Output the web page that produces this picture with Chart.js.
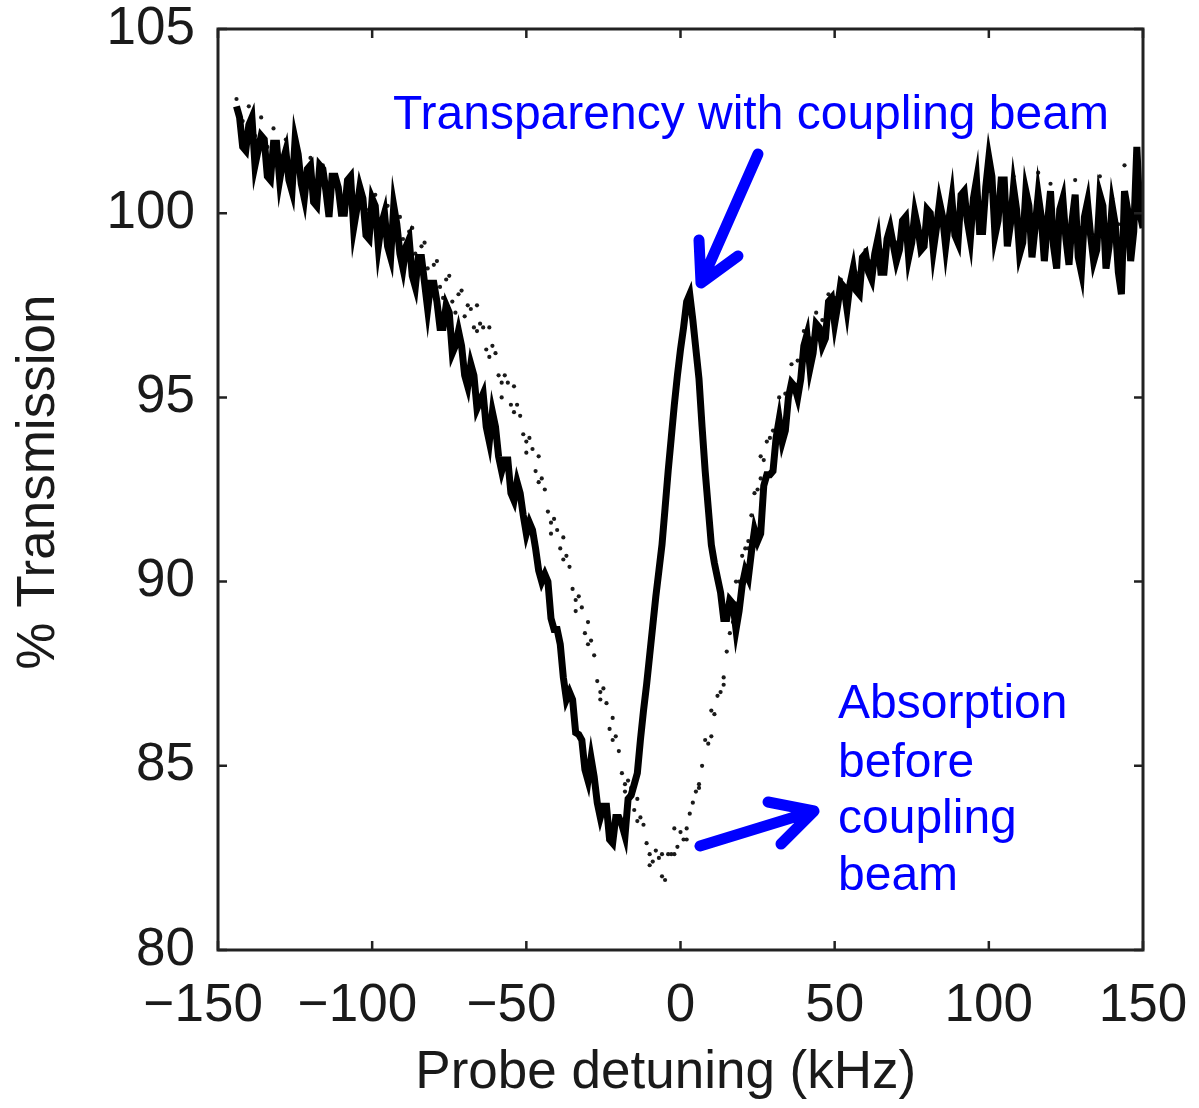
<!DOCTYPE html>
<html>
<head>
<meta charset="utf-8">
<script src="https://cdn.jsdelivr.net/npm/chart.js@4.4.1/dist/chart.umd.min.js"></script>
<style>
  html, body { margin: 0; padding: 0; background: #ffffff; }
  #c { display: block; }
</style>
</head>
<body>
<canvas id="c" width="1199" height="1108"></canvas>
<script>
// ---------- DATA ----------
const xTicks = [-150, -100, -50, 0, 50, 100, 150];
const yTicks = [80, 85, 90, 95, 100, 105];

// With coupling beam (EIT trace), detuning in kHz, 1 kHz grid
const detuning = [
  -144,-143,-142,-141,-140,-139,-138,-137,-136,-135,-134,-133,-132,-131,-130,-129,-128,-127,-126,-125,
  -124,-123,-122,-121,-120,-119,-118,-117,-116,-115,-114,-113,-112,-111,-110,-109,-108,-107,-106,-105,
  -104,-103,-102,-101,-100,-99,-98,-97,-96,-95,-94,-93,-92,-91,-90,-89,-88,-87,-86,-85,
  -84,-83,-82,-81,-80,-79,-78,-77,-76,-75,-74,-73,-72,-71,-70,-69,-68,-67,-66,-65,
  -64,-63,-62,-61,-60,-59,-58,-57,-56,-55,-54,-53,-52,-51,-50,-49,-48,-47,-46,-45,
  -44,-43,-42,-41,-40,-39,-38,-37,-36,-35,-34,-33,-32,-31,-30,-29,-28,-27,-26,-25,
  -24,-23,-22,-21,-20,-19,-18,-17,-16,-15,-14,-13,-12,-11,-10,-9,-8,-7,-6,-5,
  -4,-3,-2,-1,0,1,2,3,4,5,6,7,8,9,10,11,12,13,14,15,
  16,17,18,19,20,21,22,23,24,25,26,27,28,29,30,31,32,33,34,35,
  36,37,38,39,40,41,42,43,44,45,46,47,48,49,50,51,52,53,54,55,
  56,57,58,59,60,61,62,63,64,65,66,67,68,69,70,71,72,73,74,75,
  76,77,78,79,80,81,82,83,84,85,86,87,88,89,90,91,92,93,94,95,
  96,97,98,99,100,101,102,103,104,105,106,107,108,109,110,111,112,113,114,115,
  116,117,118,119,120,121,122,123,124,125,126,127,128,129,130,131,132,133,134,135,
  136,137,138,139,140,141,142,143,144,145,146,147,148,149,150];
const withCoupling = [
  102.9,102.6,101.8,101.7,102.4,102.6,101.3,101.7,102.1,102.0,101.0,100.9,101.9,101.9,100.9,101.4,101.7,100.9,100.6,102.0,
  101.6,100.8,100.4,101.2,101.3,100.3,100.2,101.3,101.2,100.6,99.9,101.0,101.0,100.7,100.0,100.0,100.9,101.0,99.6,100.1,
  100.7,100.4,99.4,99.3,100.4,100.2,99.1,99.7,100.0,99.1,98.8,100.2,99.7,98.9,98.5,99.1,99.3,98.3,98.0,98.8,
  98.8,98.1,97.4,98.1,98.1,97.6,96.9,96.9,97.5,97.3,96.2,96.4,96.8,96.4,95.6,95.3,95.9,95.6,94.7,94.9,
  95.1,94.2,93.8,94.6,94.2,93.4,93.0,93.3,93.3,92.4,92.2,92.7,92.4,91.8,91.3,91.6,91.4,90.9,90.3,90.0,
  90.2,90.0,89.0,88.7,88.7,88.3,87.4,86.8,87.0,86.8,85.9,85.85,85.7,84.9,84.6,85.2,84.7,84.0,83.6,83.9,
  83.9,83.0,82.9,83.6,83.6,83.4,83.1,84.1,84.2,84.5,84.8,85.7,86.5,87.2,88.0,88.8,89.6,90.3,91.0,92.0,
  93.0,93.9,94.8,95.6,96.3,96.9,97.6,97.8,97.1,96.3,95.5,94.2,93.0,92.0,91.0,90.5,90.1,89.7,89.0,89.0,
  89.5,89.4,88.7,89.2,89.9,90.3,90.1,90.8,91.4,91.1,91.3,92.6,92.9,92.9,93.0,93.9,94.4,93.8,94.1,95.0,
  95.4,95.3,95.0,95.5,96.4,96.7,95.8,96.2,97.0,96.9,96.4,96.6,97.6,97.7,97.0,97.5,98.1,98.0,97.4,98.1,
  98.5,97.9,97.8,98.8,98.9,98.4,98.2,98.9,99.3,98.4,98.4,99.3,99.6,99.15,98.7,99.0,99.8,99.9,98.8,99.2,
  100.0,99.6,99.0,99.1,100.1,100.0,99.0,99.6,100.3,99.9,99.1,99.8,100.4,99.4,99.2,100.5,100.6,99.8,99.3,100.4,
  100.9,99.5,99.5,100.7,101.5,101.0,99.4,99.8,100.9,100.9,99.1,99.7,100.7,100.1,98.9,99.2,100.6,100.2,98.8,99.6,
  100.5,99.9,98.7,99.7,100.6,99.1,98.5,100.1,100.4,99.3,98.6,99.8,100.5,98.8,98.4,99.9,100.3,99.4,98.7,99.0,
  100.5,100.2,98.5,99.1,100.2,99.7,98.4,97.8,100.6,100.1,98.7,99.5,101.8,100.0,99.6];

// Before coupling beam (plain absorption, dotted trace)
const absorptionX = [-144,-142,-140,-138,-136,-134,-132,-130,-128,-126,-124,-122,-120,-118,-116,-114,-112,-110,-108,-106,-104,-102,-100,-98,-96,-94,-92,-90,-88,-86,-84,-82,-80,-78,-76,-74,-72,-70,-68,-66,-64,-62,-60,-58,-56,-54,-52,-50,-48,-46,-44,-42,-40,-38,-36,-34,-32,-30,-28,-26,-24,-22,-20,-18,-16,-14,-12,-10,-8,-6,-4,-2,0,2,4,6,8,10,12,14,16,18,20,22,24,26,28,30,32,34,36,38,40,42,44,46,48,50,52,54,56,58,60,62,64,66,68,70,72,74,76,78,80,82,84,86,88,90,92,94,96,98,100,102,104,106,108,110,112,114,116,118,120,122,124,126,128,130,132,134,136,138,140,142,144,146,148,150,
  -69,-67,-65,-63,-61,-59,-57,-55,-53,-51,-49,-47,-45,-43,-41,-39,-37,-35,-33,-31,-29,-27,-25,-23,-21,-19,-17,-15,-13,-11,-9,-7,-5,-3,-1,1,3,5,7,9,11,13,15,17,19,21,23,25,27,29,
  -99,-97,-95,-93,-91,-89,-87,-85,-83,-81,-79,-77,-75,-73,-71,
  -66,-62,-58,-54,-50,-46,-42,-38,-34,-30,-26,-22,-18,-14,-10,-6,-2,2,6,10,14,18,22,26];
const absorptionY = [103.1,102.5,102.9,102.1,102.6,101.8,102.3,101.5,102.0,101.3,101.7,101.0,101.5,100.8,101.3,100.6,101.0,100.4,100.8,100.2,100.6,100.1,100.4,99.8,100.1,99.5,99.9,99.3,99.5,98.9,99.1,98.5,98.6,98.0,98.2,97.6,97.8,97.2,97.4,96.8,96.9,96.1,96.2,95.4,95.4,94.6,94.5,93.8,93.6,92.7,92.5,91.6,91.4,90.6,90.4,89.5,89.3,88.3,88.0,87.0,86.7,85.7,85.4,84.5,84.4,83.5,83.4,82.6,82.7,82.0,82.6,82.6,83.2,83.3,84.0,84.5,85.7,85.8,86.9,87.4,88.6,89.4,90.7,91.1,92.4,92.8,93.8,94.1,95.0,95.1,95.9,96.0,96.8,96.6,97.3,97.1,97.8,97.7,98.2,98.0,98.6,98.4,99.0,98.7,99.2,99.0,99.5,99.2,99.7,99.4,99.9,99.5,100.0,99.6,100.2,99.8,100.3,99.9,100.4,100.0,100.5,100.1,100.6,100.1,100.9,99.8,101.0,99.7,100.4,99.6,101.1,99.5,100.8,99.6,100.2,99.5,100.9,99.6,100.3,99.4,101.0,99.3,100.4,99.7,101.3,99.5,100.6,99.8,
  97.5,96.9,97.0,96.3,96.4,95.6,95.6,94.8,94.8,94.0,93.9,93.0,92.8,91.9,91.7,90.9,90.7,89.8,89.6,88.6,88.4,87.3,87.1,86.0,85.8,84.8,84.6,83.8,83.6,82.9,82.4,82.5,81.9,82.6,82.8,83.0,83.7,84.3,85.0,85.6,86.4,87.0,88.1,88.9,90.0,90.9,91.8,92.5,93.3,93.9,
  100.5,99.6,100.2,99.3,99.9,99.0,99.6,98.6,99.2,98.1,98.7,97.7,98.3,97.3,97.9,
  97.5,96.9,95.0,95.3,93.5,93.4,91.3,91.2,89.2,88.9,86.8,86.3,84.3,84.1,82.3,82.6,83.3,83.0,84.4,86.5,87.2,90.0,90.9,93.4];

const xTitle = 'Probe detuning (kHz)';
const yTitle = '% Transmission';
const noteTop = 'Transparency with coupling beam';
const noteRight = ['Absorption', 'before', 'coupling', 'beam'];

// ---------- PLUGINS ----------
const TEXT = '#1a1a1a';
const FONT = '"Liberation Sans", Arial, Helvetica, sans-serif';

const framePlugin = {
  id: 'frame',
  afterDatasetsDraw(chart) {
    const { ctx, chartArea: a, scales: { x, y } } = chart;
    ctx.save();
    ctx.strokeStyle = '#222';
    ctx.lineWidth = 3;
    ctx.strokeRect(a.left, a.top, a.right - a.left, a.bottom - a.top);
    const L = 9;
    ctx.lineWidth = 2.5;
    ctx.beginPath();
    x.ticks.forEach(t => {
      const px = x.getPixelForValue(t.value);
      ctx.moveTo(px, a.bottom); ctx.lineTo(px, a.bottom - L);
      ctx.moveTo(px, a.top); ctx.lineTo(px, a.top + L);
    });
    y.ticks.forEach(t => {
      const py = y.getPixelForValue(t.value);
      ctx.moveTo(a.left, py); ctx.lineTo(a.left + L, py);
      ctx.moveTo(a.right, py); ctx.lineTo(a.right - L, py);
    });
    ctx.stroke();
    ctx.restore();
  }
};

function arrow(ctx, x0, y0, x1, y1, w1, w2) {
  ctx.beginPath();
  ctx.moveTo(x0, y0); ctx.lineTo(x1, y1);
  ctx.moveTo(w1[0], w1[1]); ctx.lineTo(x1, y1); ctx.lineTo(w2[0], w2[1]);
  ctx.stroke();
}

const notesPlugin = {
  id: 'notes',
  afterDraw(chart) {
    const ctx = chart.ctx;
    ctx.save();
    ctx.fillStyle = '#0000ff';
    ctx.strokeStyle = '#0000ff';
    ctx.font = '48px ' + FONT;
    ctx.textAlign = 'left';
    ctx.textBaseline = 'alphabetic';
    ctx.fillText(noteTop, 393, 129);
    const base = [718, 777, 833, 890];
    noteRight.forEach((s, i) => ctx.fillText(s, 838, base[i]));
    ctx.lineWidth = 11;
    ctx.lineCap = 'round';
    ctx.lineJoin = 'round';
    arrow(ctx, 758, 154, 701, 283, [699, 240], [738, 256]);
    arrow(ctx, 700, 846, 814, 811, [768, 802], [781, 844]);
    ctx.restore();
  }
};

// ---------- CHART ----------
new Chart(document.getElementById('c'), {
  type: 'scatter',
  data: {
    datasets: [
      {
        label: 'Before coupling beam',
        data: absorptionX.map((v, i) => ({ x: v, y: absorptionY[i] })),
        showLine: false,
        pointRadius: 2.1,
        pointBorderWidth: 0,
        pointBackgroundColor: '#1a1a1a',
        order: 2
      },
      {
        label: 'With coupling beam',
        data: detuning.map((v, i) => ({ x: v, y: withCoupling[i] })),
        showLine: true,
        borderColor: '#000000',
        borderWidth: 7,
        borderJoinStyle: 'miter',
        pointRadius: 0,
        tension: 0,
        order: 1
      }
    ]
  },
  options: {
    responsive: false,
    animation: false,
    devicePixelRatio: 1,
    layout: { padding: { left: 0, right: 56, top: 29, bottom: 0 } },
    plugins: { legend: { display: false }, tooltip: { enabled: false } },
    scales: {
      x: {
        type: 'linear',
        min: -150, max: 150,
        afterBuildTicks: s => { s.ticks = xTicks.map(v => ({ value: v })); },
        afterFit: s => { s.height = 158; s.paddingLeft = 0; s.paddingRight = 0; },
        grid: { display: false, drawTicks: false },
        border: { display: false },
        ticks: {
          padding: 25,
          color: TEXT,
          font: { family: FONT, size: 53 },
          maxRotation: 0,
          callback: v => v < 0 ? '\u2212' + Math.abs(v) + '  ' : String(v)
        },
        title: {
          display: true,
          text: xTitle + '  ',
          color: TEXT,
          font: { family: FONT, size: 53 },
          padding: { top: 0, bottom: 3 }
        }
      },
      y: {
        type: 'linear',
        min: 80, max: 105,
        afterBuildTicks: s => { s.ticks = yTicks.map(v => ({ value: v })); },
        afterFit: s => { s.width = 218; s.paddingTop = 0; s.paddingBottom = 0; },
        grid: { display: false, drawTicks: false },
        border: { display: false },
        ticks: {
          padding: 23,
          color: TEXT,
          font: { family: FONT, size: 53 },
          callback: v => String(v)
        },
        title: {
          display: true,
          text: ' ' + yTitle,
          color: TEXT,
          font: { family: FONT, size: 53 },
          padding: { top: 8, bottom: 0 }
        }
      }
    }
  },
  plugins: [framePlugin, notesPlugin]
});
</script>
</body>
</html>
